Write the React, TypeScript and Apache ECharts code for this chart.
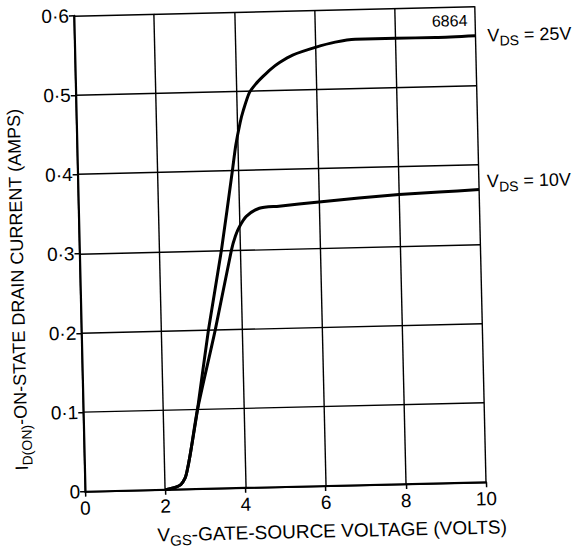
import React, { useEffect, useRef } from "react";
import * as echarts from "echarts";

const FONT = "'Liberation Sans', Arial, sans-serif";

// Axis ticks and labels
const xTickLabels = ["0", "2", "4", "6", "8", "10"];
const yTickLabels = ["0", "0·1", "0·2", "0·3", "0·4", "0·5", "0·6"];

// V_DS = 25 V curve (V_GS in volts, I_D(on) in amps)
const vgs25 = [2.0, 2.2, 2.39, 2.5, 2.55, 2.64, 2.85, 3.17, 3.54, 3.86, 3.96, 4.08, 4.17, 4.33, 4.5, 4.68, 4.88, 5.1, 5.43, 6.0, 6.5, 7.0, 8.0, 9.0, 10.0];
const id25 = [0, 0.002, 0.006, 0.014, 0.022, 0.043, 0.1, 0.2, 0.3, 0.4, 0.432, 0.46, 0.476, 0.498, 0.509, 0.518, 0.527, 0.535, 0.544, 0.553, 0.559, 0.562, 0.562, 0.562, 0.563];

// V_DS = 10 V curve
const vgs10 = [2.0, 2.2, 2.39, 2.5, 2.55, 2.64, 2.85, 3.34, 3.79, 3.9, 4.0, 4.18, 4.51, 5.0, 6.0, 7.0, 8.0, 9.0, 10.0];
const id10 = [0, 0.002, 0.006, 0.014, 0.022, 0.043, 0.1, 0.2, 0.3, 0.318, 0.329, 0.342, 0.352, 0.354, 0.358, 0.362, 0.365, 0.367, 0.369];

const label25 = "{m|V}{s|DS}{m| = 25V}";
const label10 = "{m|V}{s|DS}{m| = 10V}";
const figureNumber = "6864";
const xTitle = "{m|V}{s|GS}{m|-GATE-SOURCE VOLTAGE (VOLTS)}";
const yTitle = "{m|I}{s|D(ON)}{m|-ON-STATE DRAIN CURRENT (AMPS)}";

const richMain = {
  m: { fontFamily: FONT, fontSize: 18, color: "#000" },
  s: { fontFamily: FONT, fontSize: 14, color: "#000", padding: [11, 0, 0, 0] },
};
const richX = {
  m: { fontFamily: FONT, fontSize: 19, color: "#000" },
  s: { fontFamily: FONT, fontSize: 15, color: "#000", padding: [11, 0, 0, 0] },
};

export default function App() {
  const ref = useRef<HTMLDivElement>(null);

  useEffect(() => {
    if (!ref.current) return;
    const chart = echarts.init(ref.current, undefined, { renderer: "svg" });
    const pairs = (xs: number[], ys: number[]) => xs.map((x, i) => [x, ys[i]]);
    const option: any = {
      animation: false,
      backgroundColor: "transparent",
      textStyle: { fontFamily: FONT, color: "#000" },
      grid: { left: 77.5, top: 11, width: 403, height: 481 },
      xAxis: {
        type: "value",
        min: 0,
        max: 10,
        interval: 2,
        name: xTitle,
        nameLocation: "middle",
        nameGap: 32,
        nameTextStyle: { rich: richX, padding: [0, 0, 0, 91] },
        axisLine: { show: true, onZero: false, lineStyle: { color: "#000", width: 2 } },
        axisTick: { show: true, length: 5, lineStyle: { color: "#000", width: 1.5 } },
        axisLabel: {
          color: "#000",
          fontFamily: FONT,
          fontSize: 19,
          margin: 7,
          formatter: (v: number) => xTickLabels[Math.round(v / 2)] ?? "",
        },
        splitLine: { show: true, lineStyle: { color: "#000", width: 1.4 } },
      },
      yAxis: {
        type: "value",
        min: 0,
        max: 0.6,
        interval: 0.1,
        name: yTitle,
        nameLocation: "middle",
        nameGap: 50,
        nameRotate: 90,
        nameTextStyle: { rich: richMain, padding: [0, 69, 0, 0] },
        axisLine: { show: true, lineStyle: { color: "#000", width: 2 } },
        axisTick: { show: true, length: 5, lineStyle: { color: "#000", width: 1.5 } },
        axisLabel: {
          color: "#000",
          fontFamily: FONT,
          fontSize: 19,
          margin: 5,
          formatter: (v: number) => yTickLabels[Math.round(v * 10)] ?? "",
        },
        splitLine: { show: true, lineStyle: { color: "#000", width: 1.4 } },
      },
      graphic: [
        {
          type: "text",
          x: 455,
          y: 25,
          style: {
            text: figureNumber,
            fontFamily: FONT,
            fontSize: 16,
            fill: "#000",
            align: "center",
            verticalAlign: "middle",
          },
        },
      ],
      series: [
        {
          name: "VDS = 25V",
          type: "line",
          data: pairs(vgs25, id25),
          smooth: 0.25,
          showSymbol: false,
          lineStyle: { color: "#000", width: 3 },
          endLabel: {
            show: true,
            formatter: label25,
            distance: 12,
            rich: richMain,
          },
          z: 5,
        },
        {
          name: "VDS = 10V",
          type: "line",
          data: pairs(vgs10, id10),
          smooth: 0.25,
          showSymbol: false,
          lineStyle: { color: "#000", width: 3 },
          endLabel: {
            show: true,
            formatter: label10,
            distance: 8,
            offset: [0, -8],
            rich: richMain,
          },
          z: 5,
        },
      ],
    };
    chart.setOption(option);
    return () => chart.dispose();
  }, []);

  return (
    <div
      style={{
        position: "absolute",
        left: 0,
        top: 0,
        width: 579,
        height: 550,
        overflow: "hidden",
        background: "#fff",
      }}
    >
      <div
        ref={ref}
        style={{
          width: 600,
          height: 550,
          transform: "rotate(-1.35deg)",
          transformOrigin: "279px 251.5px",
        }}
      />
    </div>
  );
}
